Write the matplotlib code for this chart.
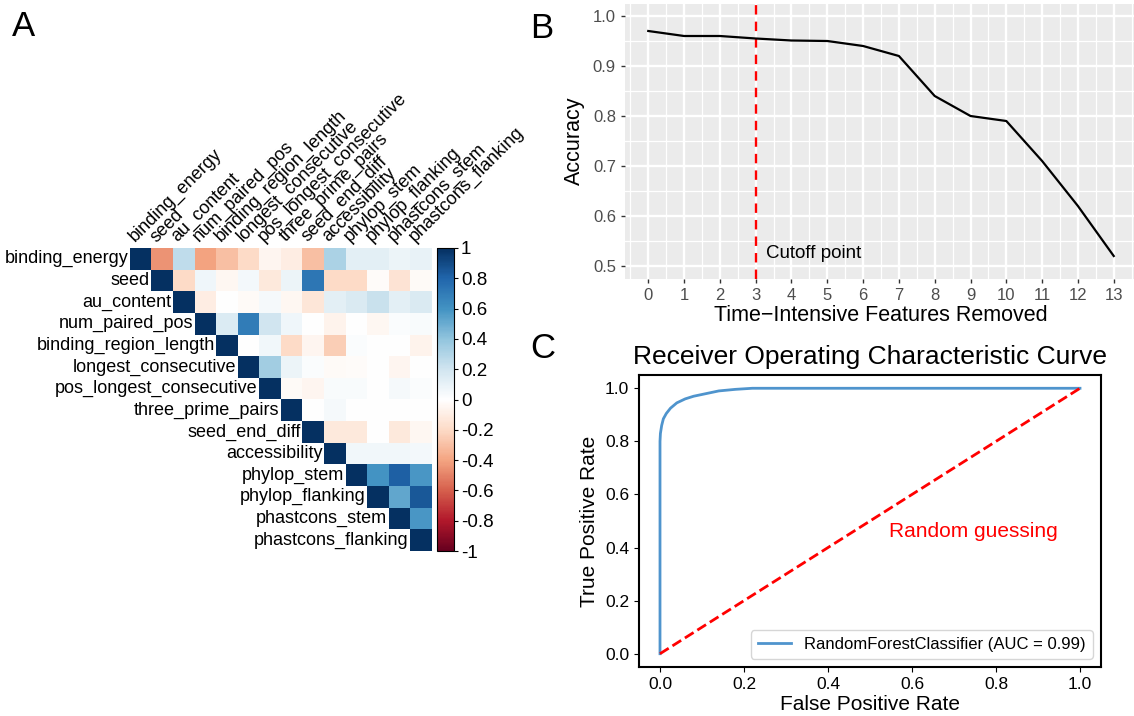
import numpy as np
import matplotlib
matplotlib.use('Agg')
import matplotlib.pyplot as plt
from matplotlib.colors import LinearSegmentedColormap

plt.rcParams['font.family'] = ['Liberation Sans', 'DejaVu Sans']

# Panel A: correlation matrix (upper triangle, read row by row)
features = ['binding_energy', 'seed', 'au_content', 'num_paired_pos',
            'binding_region_length', 'longest_consecutive',
            'pos_longest_consecutive', 'three_prime_pairs', 'seed_end_diff',
            'accessibility', 'phylop_stem', 'phylop_flanking',
            'phastcons_stem', 'phastcons_flanking']
upper_rows = [
    [1, -0.45, 0.25, -0.40, -0.30, -0.20, -0.05, -0.10, -0.30, 0.32, 0.12, 0.12, 0.08, 0.10],
    [1, -0.20, 0.07, -0.04, 0.05, -0.12, 0.08, 0.72, -0.20, -0.20, -0.02, -0.15, -0.03],
    [1, -0.10, 0.00, -0.03, 0.04, -0.04, -0.14, 0.12, 0.16, 0.22, 0.12, 0.16],
    [1, 0.15, 0.70, 0.20, 0.07, 0.00, -0.07, 0.00, -0.04, 0.02, 0.03],
    [1, 0.00, 0.06, -0.20, -0.05, -0.25, 0.02, 0.00, 0.00, -0.07],
    [1, 0.35, 0.08, 0.02, -0.03, -0.02, 0.00, -0.05, 0.00],
    [1, -0.03, -0.05, 0.03, 0.03, 0.00, 0.04, 0.02],
    [1, 0.00, 0.04, 0.00, 0.00, 0.00, 0.00],
    [1, -0.12, -0.12, 0.00, -0.12, -0.04],
    [1, 0.06, 0.06, 0.06, 0.05],
    [1, 0.60, 0.82, 0.58],
    [1, 0.52, 0.85],
    [1, 0.58],
    [1],
]
cbar_ticks = [1, 0.8, 0.6, 0.4, 0.2, 0, -0.2, -0.4, -0.6, -0.8, -1]

# Panel B: accuracy vs features removed
removed = list(range(14))
accuracy = [0.97, 0.96, 0.96, 0.955, 0.951, 0.95, 0.94, 0.92, 0.84, 0.80, 0.79, 0.71, 0.62, 0.52]
cutoff = 3

# Panel C: ROC curve
fpr = [0.0, 0.0, 0.001, 0.004, 0.008, 0.015, 0.025, 0.04, 0.06, 0.08, 0.11, 0.14, 0.18, 0.22, 1.0]
tpr = [0.0, 0.80, 0.83, 0.86, 0.885, 0.905, 0.925, 0.945, 0.96, 0.97, 0.98, 0.99, 0.996, 1.0, 1.0]
auc = 0.99

W, H = 1134, 716
fig = plt.figure(figsize=(W / 100, H / 100), dpi=100)

def px_axes(left, top, right, bottom):
    return fig.add_axes([left / W, 1 - bottom / H, (right - left) / W, (bottom - top) / H])

# ---------------- A ----------------
n = len(features)
corr = np.full((n, n), np.nan)
for i, row in enumerate(upper_rows):
    corr[i, i:] = row
cmap = LinearSegmentedColormap.from_list('corr', ["#67001F", "#B2182B", "#D6604D", "#F4A582", "#FDDBC7",
                                                  "#FFFFFF", "#D1E5F0", "#92C5DE", "#4393C3", "#2166AC", "#053061"])
axA = px_axes(130, 248, 432, 551)
im = axA.imshow(np.ma.masked_invalid(corr), cmap=cmap, vmin=-1, vmax=1, aspect='auto')
axA.set_xlim(-0.5, n - 0.5)
axA.set_ylim(n - 0.5, -0.5)
axA.axis('off')
for i, name in enumerate(features):
    axA.text(i - 0.58, i, name, ha='right', va='center', fontsize=13)
    axA.text(i - 0.15, -0.62, name, ha='left', va='bottom', rotation=45,
             rotation_mode='anchor', fontsize=13)

cax = px_axes(437, 248, 454, 551)
cb = fig.colorbar(im, cax=cax, ticks=cbar_ticks)
cb.ax.set_yticklabels(['%g' % t for t in cbar_ticks], fontsize=13.5)
cb.ax.tick_params(length=3, width=0.8, pad=2)
cb.outline.set_linewidth(0.8)

fig.text(12 / W, 1 - 36 / H, 'A', fontsize=25)

# ---------------- B ----------------
axB = px_axes(625, 3.5, 1137, 278.5)
axB.set_facecolor('#EBEBEB')
axB.set_xlim(-0.65, 13.65)
axB.set_ylim(0.475, 1.025)
for x in np.arange(-0.5, 14, 1):
    axB.axvline(x, color='white', lw=0.9, zorder=0)
for y in np.arange(0.55, 1.0, 0.1):
    axB.axhline(y, color='white', lw=0.9, zorder=0)
for x in removed:
    axB.axvline(x, color='white', lw=1.7, zorder=0)
for y in np.arange(0.5, 1.01, 0.1):
    axB.axhline(y, color='white', lw=1.7, zorder=0)
axB.plot(removed, accuracy, color='black', lw=1.6, zorder=3)
axB.axvline(cutoff, color='#FF0000', lw=1.7, ls=(0, (4, 3)), zorder=2)
axB.text(cutoff + 0.28, 0.525, 'Cutoff point', fontsize=13.5, va='center')
axB.set_xticks(removed)
axB.set_yticks([0.5, 0.6, 0.7, 0.8, 0.9, 1.0])
axB.set_yticklabels(['0.5', '0.6', '0.7', '0.8', '0.9', '1.0'])
for s in axB.spines.values():
    s.set_visible(False)
axB.tick_params(colors='#333333', labelcolor='#4D4D4D', labelsize=12, length=3, width=1)
axB.set_xlabel('Time\u2212Intensive Features Removed', fontsize=15.5, labelpad=2)
axB.set_ylabel('Accuracy', fontsize=15.5, labelpad=6)
fig.text(530 / W, 1 - 38 / H, 'B', fontsize=25)

# ---------------- C ----------------
axC = px_axes(639, 375, 1101, 667)
axC.plot(fpr, tpr, color='#4F94CD', lw=2,
         label='RandomForestClassifier (AUC = %.2f)' % auc)
axC.plot([0, 1], [0, 1], color='#FF0000', lw=2, ls='--')
axC.text(0.545, 0.46, 'Random guessing', color='#FF0000', fontsize=15, va='center')
axC.set_xlim(-0.05, 1.05)
axC.set_ylim(-0.05, 1.05)
axC.set_xticks([0, 0.2, 0.4, 0.6, 0.8, 1.0])
axC.set_yticks([0, 0.2, 0.4, 0.6, 0.8, 1.0])
axC.tick_params(labelsize=12.5)
for s in axC.spines.values():
    s.set_linewidth(1.5)
axC.set_title('Receiver Operating Characteristic Curve', fontsize=19, pad=8)
axC.set_xlabel('False Positive Rate', fontsize=15, labelpad=2)
axC.set_ylabel('True Positive Rate', fontsize=15)
axC.legend(loc='lower right', fontsize=12)
fig.text(530 / W, 1 - 358 / H, 'C', fontsize=25)

fig.savefig('out.png', dpi=100)
